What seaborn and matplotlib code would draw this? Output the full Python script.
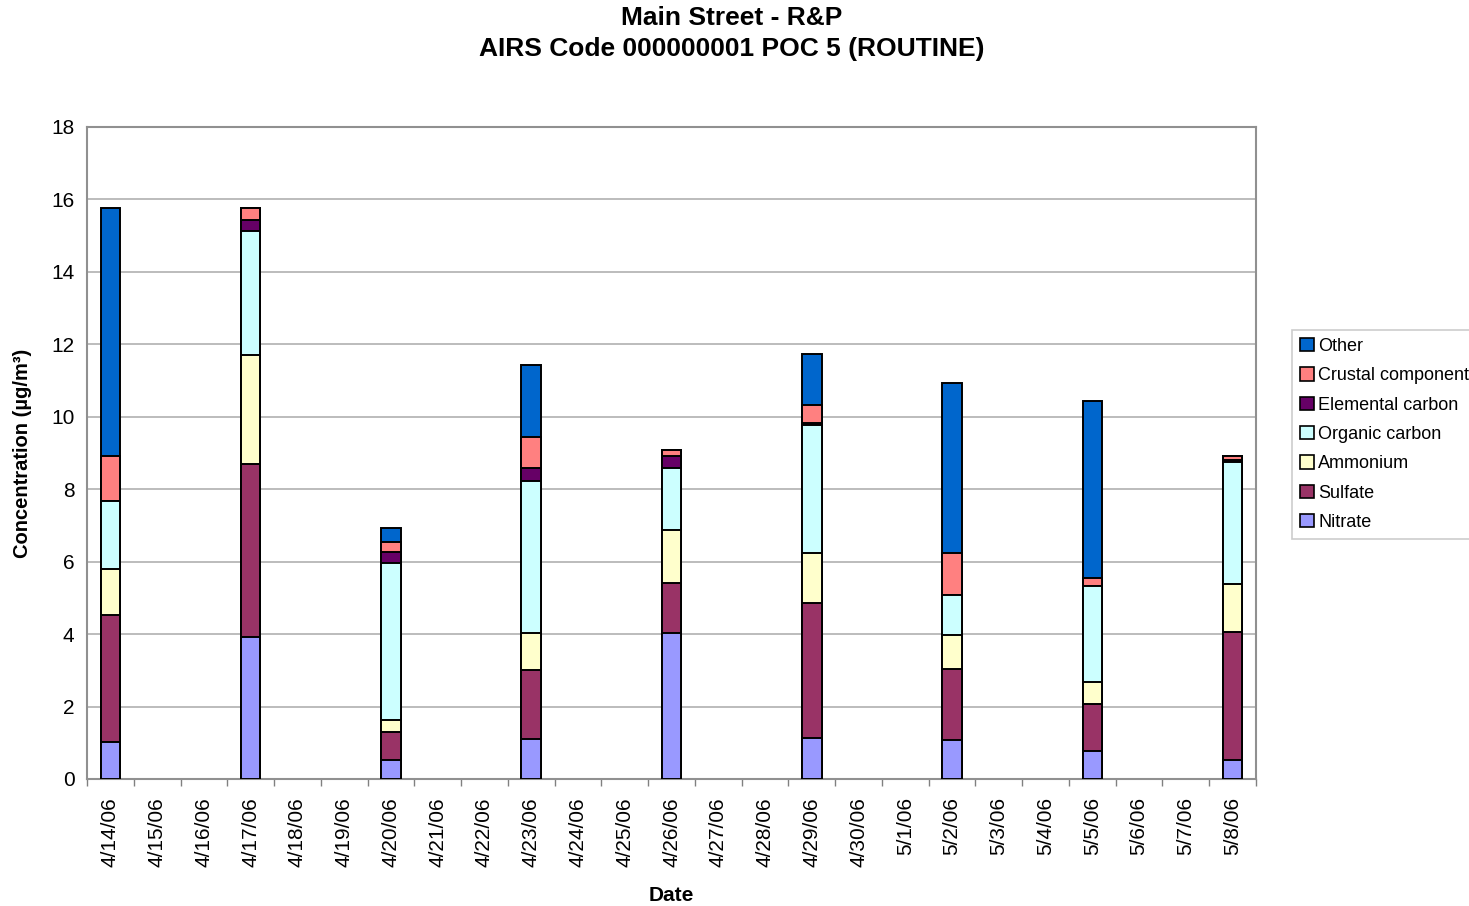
import matplotlib
matplotlib.use("Agg")
import matplotlib.pyplot as plt
from matplotlib.patches import Patch
import numpy as np
import pandas as pd
import seaborn as sns

# Sampling dates shown on the category axis (daily, 4/14/06 - 5/8/06)
dates = ["4/14/06", "4/15/06", "4/16/06", "4/17/06", "4/18/06", "4/19/06",
         "4/20/06", "4/21/06", "4/22/06", "4/23/06", "4/24/06", "4/25/06",
         "4/26/06", "4/27/06", "4/28/06", "4/29/06", "4/30/06", "5/1/06",
         "5/2/06", "5/3/06", "5/4/06", "5/5/06", "5/6/06", "5/7/06", "5/8/06"]

# Days with a filter sample (every third day)
sample_dates = ["4/14/06", "4/17/06", "4/20/06", "4/23/06", "4/26/06",
                "4/29/06", "5/2/06", "5/5/06", "5/8/06"]

# Species concentrations (µg/m³), bottom of the stack first
nitrate = [1.02, 3.91, 0.53, 1.10, 4.04, 1.14, 1.09, 0.78, 0.53]
sulfate = [3.50, 4.78, 0.76, 1.91, 1.36, 3.71, 1.96, 1.29, 3.53]
ammonium = [1.28, 3.01, 0.34, 1.01, 1.48, 1.38, 0.92, 0.62, 1.32]
organic_carbon = [1.87, 3.42, 4.33, 4.22, 1.71, 3.54, 1.12, 2.64, 3.36]
elemental_carbon = [0.00, 0.30, 0.32, 0.34, 0.34, 0.07, 0.00, 0.00, 0.07]
crustal = [1.26, 0.35, 0.27, 0.87, 0.15, 0.48, 1.15, 0.21, 0.11]
other = [6.84, 0.00, 0.39, 1.99, 0.00, 1.42, 4.70, 4.90, 0.00]

species = ["Nitrate", "Sulfate", "Ammonium", "Organic carbon",
           "Elemental carbon", "Crustal component", "Other"]
colors = ["#9999FF", "#993366", "#FFFFCC", "#CCFFFF",
          "#660066", "#FF8080", "#0066CC"]

values = pd.DataFrame({
    "Nitrate": nitrate,
    "Sulfate": sulfate,
    "Ammonium": ammonium,
    "Organic carbon": organic_carbon,
    "Elemental carbon": elemental_carbon,
    "Crustal component": crustal,
    "Other": other,
}, index=sample_dates)

# Running totals: each layer is drawn as a full-height bar, top layer first
cumulative = values[species].cumsum(axis=1)

sns.set_theme(style="white")
plt.rcParams["font.family"] = ["Liberation Sans", "DejaVu Sans"]
plt.rcParams["text.color"] = "black"
plt.rcParams["axes.labelcolor"] = "black"
plt.rcParams["xtick.color"] = "black"
plt.rcParams["ytick.color"] = "black"

fig = plt.figure(figsize=(14.69, 9.06), dpi=100)
ax = fig.add_axes([87 / 1469, 1 - 779 / 906, (1256 - 87) / 1469, (779 - 127) / 906])

for name, color in reversed(list(zip(species, colors))):
    layer = pd.DataFrame({"Date": cumulative.index, "Total": cumulative[name].values})
    sns.barplot(data=layer, x="Date", y="Total", order=dates, color=color,
                saturation=1, width=0.42, edgecolor="black", linewidth=1.4,
                errorbar=None, ax=ax, zorder=3)

ax.set_xlim(-0.5, len(dates) - 0.5)
ax.set_ylim(0, 18)
ax.set_yticks(np.arange(0, 19, 2))
ax.tick_params(axis="y", labelsize=15, length=0, pad=9, labelcolor="black")

# Category labels centered, tick marks on category boundaries
ax.set_xticks(range(len(dates)))
ax.set_xticklabels(dates, rotation=90, fontsize=15)
ax.tick_params(axis="x", which="major", length=0, pad=13, labelcolor="black")
ax.set_xticks(np.arange(-0.5, len(dates), 1), minor=True)
ax.tick_params(axis="x", which="minor", length=5, width=1, color="#808080",
               direction="out", bottom=True)

ax.yaxis.grid(True, color="#B0B0B0", linewidth=1.2, zorder=0)
ax.xaxis.grid(False)
ax.set_axisbelow(True)
for side in ["left", "right", "top", "bottom"]:
    ax.spines[side].set_color("#909090")
    ax.spines[side].set_linewidth(1.5)

ax.set_xlabel("Date", fontsize=15, fontweight="bold", labelpad=14)
ax.set_ylabel("Concentration (µg/m³)", fontsize=14.5, fontweight="bold", labelpad=14)

fig.text(732 / 1469, 1 - 18 / 906, "Main Street - R&P", ha="center", va="center",
         fontsize=19, fontweight="bold")
fig.text(732 / 1469, 1 - 49 / 906, "AIRS Code 000000001 POC 5 (ROUTINE)",
         ha="center", va="center", fontsize=19, fontweight="bold")

handles = [Patch(facecolor=c, edgecolor="black", linewidth=1.2, label=s)
           for s, c in zip(species, colors)][::-1]
leg = fig.legend(handles=handles, loc="upper left",
                 bbox_to_anchor=(1292 / 1469, 1 - 330 / 906),
                 fontsize=13, frameon=True, fancybox=False,
                 handlelength=0.75, handleheight=0.75, handletextpad=0.25,
                 labelspacing=0.68, borderpad=0.45, borderaxespad=0)
leg.get_frame().set_edgecolor("#C0C0C0")
leg.get_frame().set_linewidth(1.2)

fig.savefig("out.png", dpi=100)
